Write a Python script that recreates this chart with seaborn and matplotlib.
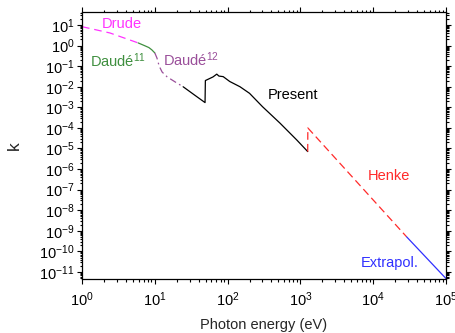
import numpy as np
import pandas as pd
import matplotlib
matplotlib.use("Agg")
import matplotlib.pyplot as plt
import matplotlib.ticker as mticker
import seaborn as sns

# ---- data ----
drude_E = [1.0, 2.42, 5.9]
drude_k = [8.3, 4.1, 1.35]

daude11_E = [5.9, 7.2, 8.3, 9.1, 10.0]
daude11_k = [1.35, 1.0, 0.80, 0.62, 0.44]

daude12_E = [10.0, 10.7, 11.5, 12.6, 14.8, 19.1, 24.5]
daude12_k = [0.44, 0.25, 0.10, 0.052, 0.030, 0.017, 0.010]

present_E = [24.5, 35.0, 49.0, 49.5, 63.0, 71.0, 76.0, 87.0, 107.0, 148.0, 200.0, 302.0, 525.0, 891.0, 1260.0]
present_k = [0.010, 4.0e-3, 1.7e-3, 0.020, 0.030, 0.041, 0.033, 0.031, 0.018, 0.010, 4.8e-3, 1.07e-3, 1.7e-4, 2.6e-5, 7.1e-6]

henke_E = [1260.0, 1265.0, 28800.0]
henke_k = [7.1e-6, 1.0e-4, 5.1e-10]

extrap_E = [28800.0, 1.0e5]
extrap_k = [5.1e-10, 4.8e-12]

labels = ["Drude", "Daudé$^{11}$", "Daudé$^{12}$", "Present", "Henke", "Extrapol."]
label_E = [1.88, 1.29, 12.9, 355.0, 8350.0, 6700.0]
label_k = [11.2, 0.178, 0.20, 4.0e-3, 4.6e-7, 2.75e-11]

colors = ["#ff33ff", "#3f8f3f", "#9a4f9a", "#000000", "#ff2a2a", "#3030ff"]

# ---- style ----
sns.set_theme(style="ticks")
plt.rcParams["font.family"] = ["Liberation Sans", "DejaVu Sans"]
plt.rcParams["mathtext.fontset"] = "custom"
plt.rcParams["mathtext.rm"] = "Liberation Sans"
plt.rcParams["mathtext.it"] = "Liberation Sans"
plt.rcParams["mathtext.default"] = "regular"
plt.rcParams["lines.scale_dashes"] = False

fig = plt.figure(figsize=(4.56, 3.33), dpi=100)
ax = fig.add_axes([82 / 456, 1 - 279 / 333, (446 - 82) / 456, (279 - 11.7) / 333])

series = [
    (drude_E, drude_k, colors[0], (5.5, 3.5)),
    (daude11_E, daude11_k, colors[1], None),
    (daude12_E, daude12_k, colors[2], (5.0, 2.5, 1.2, 2.5)),
    (present_E, present_k, colors[3], None),
    (henke_E, henke_k, colors[4], (5.5, 3.0)),
    (extrap_E, extrap_k, colors[5], None),
]
for E, k, c, dash in series:
    df = pd.DataFrame({"E": E, "k": k})
    sns.lineplot(data=df, x="E", y="k", sort=False, color=c, lw=0.9, ax=ax)
    if dash is not None:
        ax.lines[-1].set_dashes(dash)

ax.set_xscale("log")
ax.set_yscale("log")
ax.set_xlim(1, 1e5)
ax.set_ylim(10 ** -11.34, 10 ** 1.646)

ax.xaxis.set_major_locator(mticker.LogLocator(base=10, numticks=20))
ax.xaxis.set_minor_locator(mticker.LogLocator(base=10, subs=np.arange(2, 10), numticks=100))
ax.yaxis.set_major_locator(mticker.LogLocator(base=10, numticks=30))
ax.yaxis.set_minor_locator(mticker.LogLocator(base=10, subs=np.arange(2, 10), numticks=200))
ax.xaxis.set_minor_formatter(mticker.NullFormatter())
ax.yaxis.set_minor_formatter(mticker.NullFormatter())

ax.tick_params(which="both", direction="out", top=True, right=True, labeltop=False,
               labelright=False, colors="black", width=0.8)
ax.tick_params(which="major", length=3.5, labelsize=10.5)
ax.tick_params(axis="y", which="major", pad=2)
ax.tick_params(axis="x", which="major", pad=5)
ax.tick_params(which="minor", length=1.8)
for s in ax.spines.values():
    s.set_visible(True)
    s.set_linewidth(0.9)
    s.set_color("black")

ax.set_xlabel("Photon energy (eV)", fontsize=10.5, labelpad=6)
ax.set_ylabel("k", fontsize=12.5, labelpad=12)
ax.grid(False)

for t, e, kk, c in zip(labels, label_E, label_k, colors):
    ax.text(e, kk, t, color=c, fontsize=10.5, ha="left", va="center")

fig.savefig("out.png", dpi=100)
